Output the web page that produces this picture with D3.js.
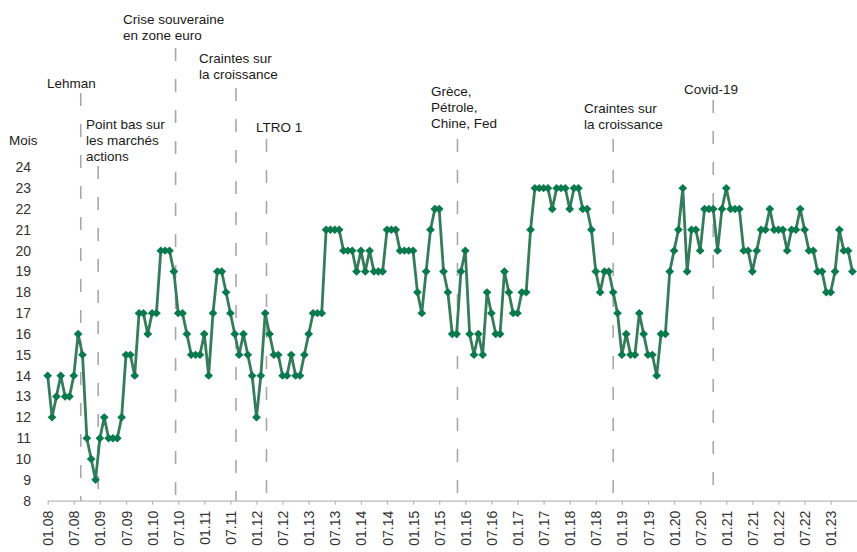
<!DOCTYPE html>
<html><head><meta charset="utf-8">
<script src="https://cdn.jsdelivr.net/npm/d3@7"></script>
<style>
body{margin:0;background:#fff}
svg{display:block}
text{font-family:"Liberation Sans",Arial,Helvetica,sans-serif}
</style>
</head><body>
<svg id="c" width="857" height="552"></svg>
<script>
// Monthly values, 01.2008 .. 06.2023
const values = [
  14,12,13,14,13,13,14,16,15,11,
  10,9,11,12,11,11,11,12,15,15,
  14,17,17,16,17,17,20,20,20,19,
  17,17,16,15,15,15,16,14,17,19,
  19,18,17,16,15,16,15,14,12,14,
  17,16,15,15,14,14,15,14,14,15,
  16,17,17,17,21,21,21,21,20,20,
  20,19,20,19,20,19,19,19,21,21,
  21,20,20,20,20,18,17,19,21,22,
  22,19,18,16,16,19,20,16,15,16,
  15,18,17,16,16,19,18,17,17,18,
  18,21,23,23,23,23,22,23,23,23,
  22,23,23,22,22,21,19,18,19,19,
  18,17,15,16,15,15,17,16,15,15,
  14,16,16,19,20,21,23,19,21,21,
  20,22,22,22,20,22,23,22,22,22,
  20,20,19,20,21,21,22,21,21,21,
  20,21,21,22,21,20,20,19,19,18,
  18,19,21,20,20,19
];
const tickLabels = [
  "01.08","07.08","01.09","07.09","01.10","07.10","01.11","07.11",
  "01.12","07.12","01.13","07.13","01.14","07.14","01.15","07.15",
  "01.16","07.16","01.17","07.17","01.18","07.18","01.19","07.19",
  "01.20","07.20","01.21","07.21","01.22","07.22","01.23"
];
const yTicks = [8,9,10,11,12,13,14,15,16,17,18,19,20,21,22,23,24];
const yTitle = "Mois";
// Events: month index (0 = 01.08) and label lines
const eventMonths = [7.6, 11.6, 29.4, 43.3, 50.3, 94.2, 130.0, 153.0];
const eventLabels = [
  ["Lehman"],
  ["Point bas sur","les marchés","actions"],
  ["Crise souveraine","en zone euro"],
  ["Craintes sur","la croissance"],
  ["LTRO 1"],
  ["Grèce,","Pétrole,","Chine, Fed"],
  ["Craintes sur","la croissance"],
  ["Covid-19"]
];

// layout (text anchor x, first baseline y, dashed line top)
const eventLayout = [
  {tx:47, ty:88, top:93},
  {tx:86, ty:129, top:166},
  {tx:123, ty:24, top:48},
  {tx:199, ty:63, top:88},
  {tx:256, ty:132, top:139},
  {tx:431, ty:96, top:139},
  {tx:584, ty:113, top:139},
  {tx:684, ty:94, top:100}
];

const svg = d3.select("#c");
const x = d3.scaleLinear().domain([0, 186.05]).range([47.7, 857]);
const y = d3.scaleLinear().domain([8, 24]).range([500.7, 167.3]);

// x axis
const xAxis = d3.axisBottom(x)
  .tickValues(tickLabels.map((d,i)=>i*6))
  .tickFormat((d,i)=>tickLabels[i])
  .tickSizeInner(4).tickSizeOuter(0);
const gx = svg.append("g").attr("transform",`translate(0,${y(8)})`).call(xAxis);
gx.select(".domain").attr("stroke","#b8b8b8").attr("stroke-width",1.2);
gx.selectAll(".tick line").attr("stroke","#b8b8b8").attr("stroke-width",1.2);
gx.selectAll(".tick text")
  .attr("fill","#333").style("font-size","14px")
  .attr("text-anchor","end")
  .attr("transform","rotate(-90)")
  .attr("x",-10).attr("y",0).attr("dy","0.36em");

// y axis
const yAxis = d3.axisLeft(y).tickValues(yTicks).tickSize(0).tickFormat(d3.format("d"));
const gy = svg.append("g").attr("transform","translate(31,0)").call(yAxis);
gy.select(".domain").remove();
gy.selectAll(".tick text").attr("fill","#333").style("font-size","14px").attr("x",0);

svg.append("text").attr("x",9).attr("y",145).attr("fill","#222")
  .style("font-size","13.5px").text(yTitle);

// event lines + labels
eventMonths.forEach((m,i)=>{
  const L = eventLayout[i];
  svg.append("line")
    .attr("x1",x(m)).attr("x2",x(m))
    .attr("y1",L.top).attr("y2",y(8))
    .attr("stroke","#a8a8a8").attr("stroke-width",1.6)
    .attr("stroke-dasharray","13,18");
  const t = svg.append("text").attr("fill","#1a1a1a").style("font-size","13.5px");
  eventLabels[i].forEach((s,j)=>{
    t.append("tspan").attr("x",L.tx).attr("y",L.ty + j*16).text(s);
  });
});

// line
const line = d3.line().x((d,i)=>x(i)).y(d=>y(d));
svg.append("path").datum(values)
  .attr("d",line).attr("fill","none")
  .attr("stroke","#357c5c").attr("stroke-width",2.8)
  .attr("stroke-linejoin","round");

// diamond markers
svg.append("g").selectAll("path").data(values).join("path")
  .attr("transform",(d,i)=>`translate(${x(i)},${y(d)})`)
  .attr("d","M0,-4.2L4.4,0L0,4.2L-4.4,0Z")
  .attr("fill","#0a7a4e");
</script>
</body></html>
